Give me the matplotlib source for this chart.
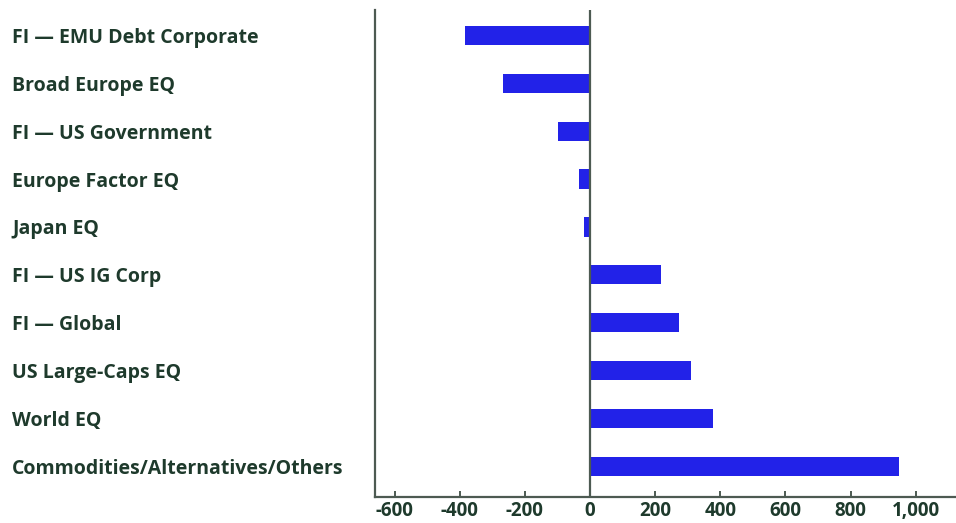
import numpy as np
import matplotlib.pyplot as plt
from matplotlib.ticker import FuncFormatter

# categories top to bottom
categories = ['FI \u2014 EMU Debt Corporate', 'Broad Europe EQ', 'FI \u2014 US Government',
              'Europe Factor EQ', 'Japan EQ', 'FI \u2014 US IG Corp', 'FI \u2014 Global',
              'US Large-Caps EQ', 'World EQ', 'Commodities/Alternatives/Others']
values = [-384, -268, -99, -33, -18, 217, 272, 310, 377, 948]
xticks = [-600, -400, -200, 0, 200, 400, 600, 800, 1000]

bar_color = '#2222e8'
text_color = '#1e3a2c'
line_color = '#4d5a52'

plt.rcParams['font.family'] = ['Open Sans', 'DejaVu Sans']

fig = plt.figure(figsize=(9.56, 5.23), dpi=100)
ax = fig.add_axes([375/956, 1-497/523, 1-375/956, 487/523])

ypos = np.arange(len(categories))
ax.barh(ypos, values, height=0.4, color=bar_color)
ax.axvline(0, color=line_color, lw=1.6)

ax.set_xlim(-660.5, 1124)
ax.set_ylim(9.64, -0.53)

ax.set_yticks(ypos)
ax.set_yticklabels(categories, ha='left', fontsize=14, fontweight='bold', color=text_color)
ax.tick_params(axis='y', length=0, pad=363*0.72)

ax.set_xticks(xticks)
ax.xaxis.set_major_formatter(FuncFormatter(lambda v, p: f'{v:,.0f}'))
ax.tick_params(axis='x', direction='in', length=4, width=1.4, color=line_color,
               labelsize=13.5, labelcolor=text_color, pad=3)
for lab in ax.get_xticklabels():
    lab.set_fontweight('bold')

for s in ['top', 'right']:
    ax.spines[s].set_visible(False)
for s in ['left', 'bottom']:
    ax.spines[s].set_color(line_color)
    ax.spines[s].set_linewidth(1.6)

fig.savefig('out.png', dpi=100)
